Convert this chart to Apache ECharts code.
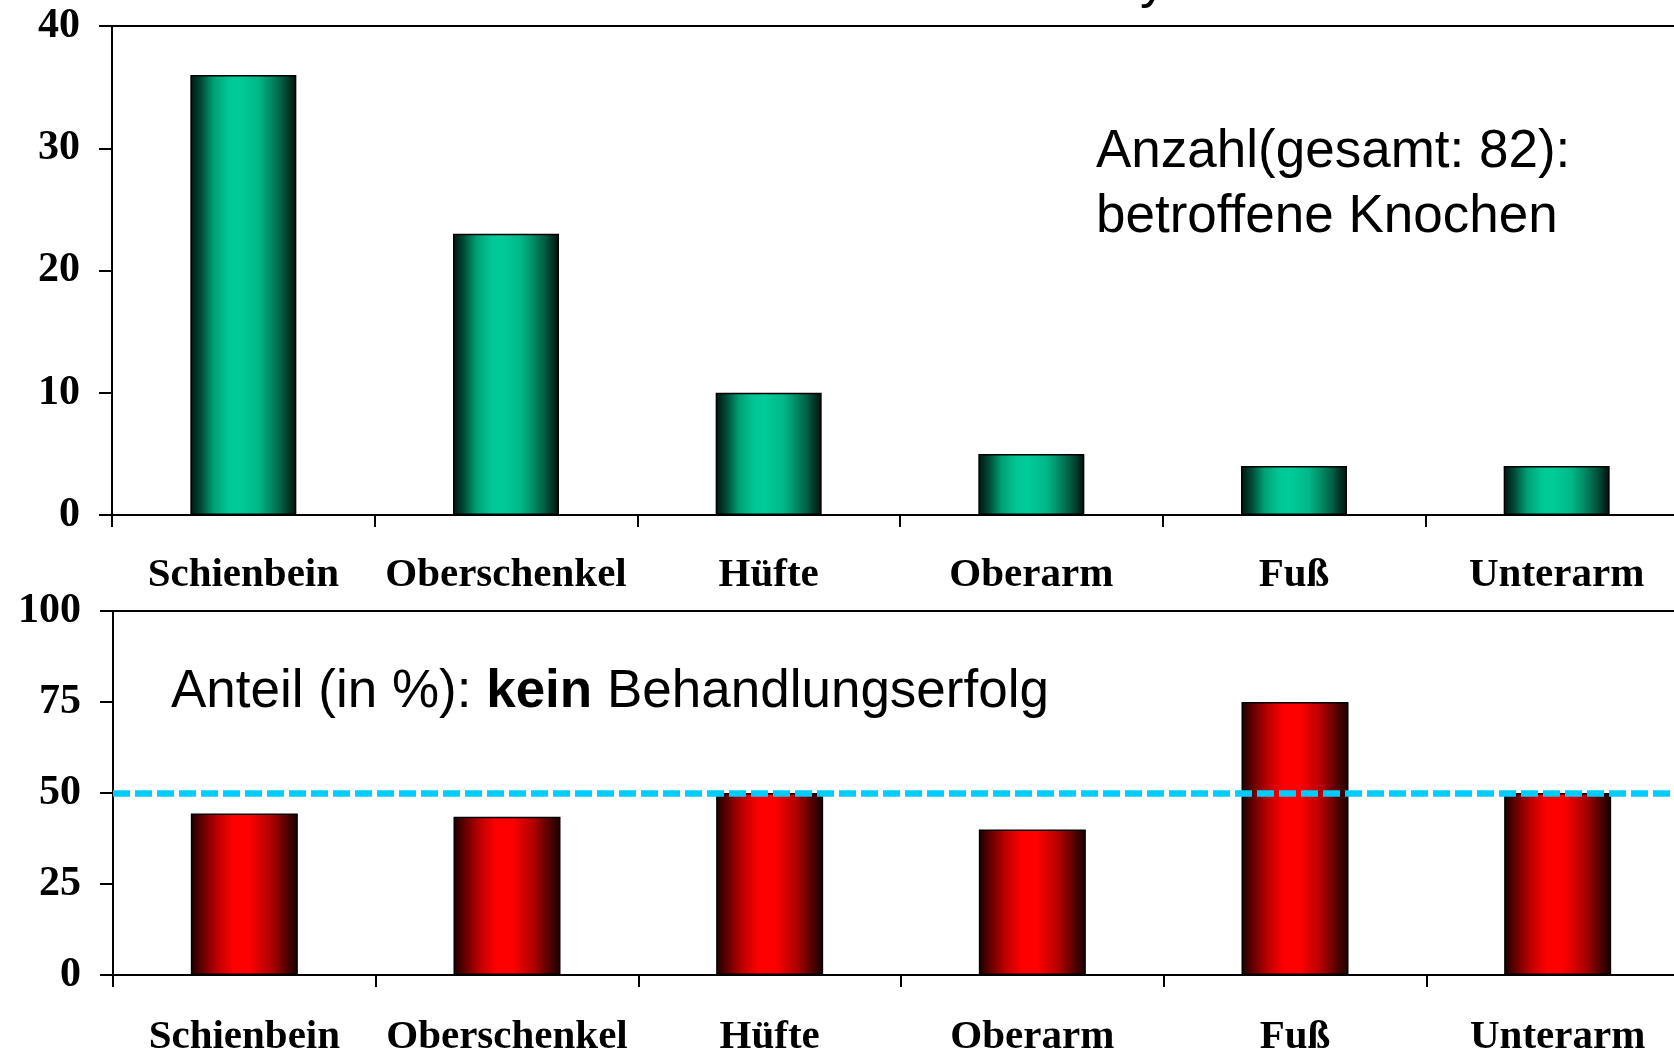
<!DOCTYPE html>
<html>
<head>
<meta charset="utf-8">
<title>Knochen</title>
<script src="https://cdn.jsdelivr.net/npm/echarts@6/dist/echarts.min.js"></script>
<style>
  html, body { margin: 0; padding: 0; background: #fff; }
  #chart { width: 1674px; height: 1054px; }
</style>
</head>
<body>
<div id="chart"></div>
<script>
// data
var categories = ["Schienbein", "Oberschenkel", "Hüfte", "Oberarm", "Fuß", "Unterarm"];
var boneCounts = [36, 23, 10, 5, 4, 4];           // total 82
var failurePercent = [44.4, 43.5, 50, 40, 75, 50]; // kein Behandlungserfolg
var thresholdPercent = 50;

var serif = "Liberation Serif";
var sans = "Liberation Sans";

function hGrad(stops) {
  return new echarts.graphic.LinearGradient(0, 0, 1, 0, stops);
}
var greenFill = hGrad([
  { offset: 0, color: "#001510" },
  { offset: 0.1, color: "#004a35" },
  { offset: 0.22, color: "#00a074" },
  { offset: 0.36, color: "#00c795" },
  { offset: 0.46, color: "#00cc99" },
  { offset: 0.64, color: "#00b888" },
  { offset: 0.76, color: "#008a64" },
  { offset: 0.87, color: "#005a40" },
  { offset: 0.95, color: "#002a1e" },
  { offset: 1, color: "#001510" }
]);
var redFill = hGrad([
  { offset: 0, color: "#1a0000" },
  { offset: 0.1, color: "#600000" },
  { offset: 0.25, color: "#c00000" },
  { offset: 0.4, color: "#ff0000" },
  { offset: 0.55, color: "#ff0000" },
  { offset: 0.75, color: "#b00000" },
  { offset: 0.9, color: "#500000" },
  { offset: 1, color: "#1a0000" }
]);

function catAxis(gridIndex, margin) {
  return {
    type: "category",
    gridIndex: gridIndex,
    data: categories,
    axisLine: { lineStyle: { color: "#000", width: 2 } },
    axisTick: { show: true, length: 12, lineStyle: { color: "#000", width: 2 } },
    axisLabel: { color: "#000", fontFamily: serif, fontWeight: "bold", fontSize: 41, margin: margin, interval: 0 },
    splitLine: { show: false }
  };
}
function valAxis(gridIndex, max, interval) {
  return {
    type: "value",
    gridIndex: gridIndex,
    min: 0,
    max: max,
    interval: interval,
    axisLine: { show: true, lineStyle: { color: "#000", width: 2 } },
    axisTick: { show: true, length: 13, lineStyle: { color: "#000", width: 2 } },
    axisLabel: { color: "#000", fontFamily: serif, fontWeight: "bold", fontSize: 42, margin: 32 },
    splitLine: { show: false }
  };
}

var chart = echarts.init(document.getElementById("chart"));
chart.setOption({
  animation: false,
  backgroundColor: "#fff",
  grid: [
    { left: 112, width: 1576, top: 26, bottom: 539, outerBoundsMode: "none", show: true, borderColor: "#000", borderWidth: 2 },
    { left: 113, width: 1576, top: 611, bottom: 79, outerBoundsMode: "none", show: true, borderColor: "#000", borderWidth: 2 }
  ],
  xAxis: [catAxis(0, 40), catAxis(1, 42)],
  yAxis: [valAxis(0, 40, 10), valAxis(1, 100, 25)],
  series: [
    {
      name: "Anzahl",
      type: "bar",
      xAxisIndex: 0,
      yAxisIndex: 0,
      data: boneCounts,
      barWidth: 106,
      itemStyle: { color: greenFill, borderColor: "#000", borderWidth: 1.5 }
    },
    {
      name: "kein Behandlungserfolg",
      type: "bar",
      xAxisIndex: 1,
      yAxisIndex: 1,
      data: failurePercent,
      barWidth: 107,
      itemStyle: { color: redFill, borderColor: "#000", borderWidth: 1.5 },
      markLine: {
        silent: true,
        symbol: "none",
        label: { show: false },
        lineStyle: { color: "#00ccff", width: 6.5, type: [17, 5], cap: "butt" },
        data: [{ yAxis: thresholdPercent }]
      }
    }
  ],
  graphic: [
    {
      type: "text",
      left: 1140,
      top: -44,
      style: { text: "y", font: "53px " + sans, fill: "#000" }
    },
    {
      type: "text",
      x: 1096,
      y: 185,
      style: {
        text: "Anzahl(gesamt: 82):\nbetroffene Knochen",
        font: "53px " + sans,
        lineHeight: 65,
        fill: "#000",
        verticalAlign: "middle"
      }
    },
    {
      type: "text",
      x: 171,
      y: 692,
      style: {
        text: "Anteil (in %): {b|kein} Behandlungserfolg",
        font: "53px " + sans,
        fill: "#000",
        verticalAlign: "middle",
        rich: { b: { fontFamily: sans, fontSize: 53, fontWeight: "bold", fill: "#000" } }
      }
    }
  ]
});
</script>
</body>
</html>
